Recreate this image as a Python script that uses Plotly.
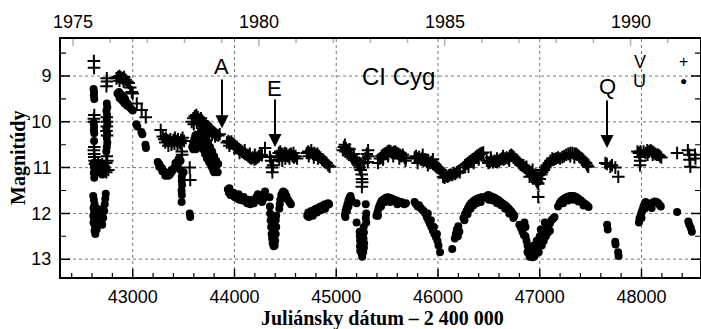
import plotly.graph_objects as go

# ---------------- data: (JD - 2 400 000, magnitude) ----------------
# U band (filled circles)
U_1975 = [(42615, 9.28), (42620, 9.35), (42618, 9.42), (42622, 9.5), (42616, 10.02), (42620, 10.1),
          (42618, 10.18), (42622, 10.25), (42620, 10.42), (42615, 10.9), (42620, 10.98), (42625, 11.05),
          (42618, 11.12), (42622, 11.22), (42630, 11.0), (42640, 11.1), (42660, 11.05), (42680, 11.1),
          (42700, 11.15), (42720, 11.05), (42612, 11.62), (42618, 11.7), (42625, 11.8), (42615, 11.88),
          (42622, 11.95), (42630, 12.0), (42612, 12.05), (42620, 12.1), (42628, 12.15), (42615, 12.2),
          (42625, 12.25), (42635, 12.3), (42625, 12.38), (42632, 12.45), (42645, 12.35), (42655, 12.2),
          (42665, 12.1), (42660, 11.98), (42675, 12.05), (42690, 12.15), (42700, 12.25), (42710, 12.1),
          (42720, 11.95), (42725, 11.8), (42730, 11.68), (42735, 11.57), (42680, 11.92), (42650, 11.9),
          (42745, 9.6), (42750, 9.68), (42742, 9.76), (42748, 9.85), (42745, 9.95), (42750, 10.05),
          (42742, 10.15), (42748, 10.25), (42745, 10.35), (42750, 10.45), (42745, 10.55), (42740, 10.65),
          (42850, 9.38), (42865, 9.35), (42880, 9.4), (42895, 9.42), (42910, 9.45), (42870, 9.48),
          (42890, 9.52), (42905, 9.55), (42925, 9.5), (42940, 9.58), (42955, 9.62), (42970, 9.68),
          (42985, 9.72), (43000, 9.75), (42945, 9.65), (42920, 9.6), (43035, 10.05), (43045, 10.1),
          (43085, 10.22), (43095, 10.27), (43125, 10.5), (43130, 10.57)]
U_1977 = [(43245, 10.88), (43260, 10.92), (43275, 10.98), (43290, 11.02), (43305, 11.08), (43320, 11.12),
          (43335, 11.15), (43350, 11.18), (43365, 11.15), (43380, 11.1), (43395, 11.05), (43410, 11.0),
          (43425, 10.95), (43440, 10.9), (43455, 10.88), (43470, 10.85), (43260, 10.98), (43290, 11.08),
          (43320, 11.18), (43350, 11.12), (43380, 11.05), (43420, 10.9), (43450, 10.82), (43440, 10.95),
          (43470, 11.05), (43500, 11.1), (43482, 11.2), (43482, 11.28), (43485, 11.38), (43480, 11.5),
          (43483, 11.6), (43480, 11.75), (43560, 12.0), (43565, 12.08)]
U_1978 = [(43585, 10.55), (43595, 10.45), (43605, 10.38), (43615, 10.3), (43625, 10.28), (43595, 10.6),
          (43610, 10.52), (43625, 10.45), (43640, 10.38), (43655, 10.3), (43640, 10.55), (43660, 10.45),
          (43670, 10.2), (43685, 10.22), (43690, 10.3), (43700, 10.38), (43710, 10.45), (43720, 10.52),
          (43730, 10.6), (43740, 10.68), (43750, 10.75), (43760, 10.82), (43775, 10.9), (43790, 10.97),
          (43805, 11.02), (43820, 11.07), (43835, 11.1), (43680, 10.4), (43700, 10.5), (43720, 10.62),
          (43740, 10.78), (43760, 10.9), (43780, 11.0), (43800, 11.1), (43620, 10.6), (43650, 10.55),
          (43670, 10.5), (43690, 10.6), (43710, 10.7), (43730, 10.8), (43750, 10.88), (43770, 10.95),
          (43790, 11.05), (43700, 10.25), (43720, 10.35), (43740, 10.45), (43760, 10.55), (43780, 10.65),
          (43800, 10.75), (43820, 10.85), (43840, 10.92)]
U_1979 = [(43935, 11.48), (43945, 11.55), (43960, 11.6), (43975, 11.58), (43990, 11.62), (44005, 11.65),
          (44020, 11.62), (44035, 11.68), (44050, 11.7), (44065, 11.66), (44080, 11.72), (44095, 11.7),
          (44110, 11.74), (44125, 11.78), (44140, 11.76), (44155, 11.8), (44170, 11.74), (44185, 11.7),
          (44200, 11.72), (44215, 11.65), (44230, 11.58), (44245, 11.62), (44260, 11.68), (44270, 11.75),
          (44280, 11.7), (44290, 11.6), (44300, 11.52), (43950, 11.45), (43990, 11.55), (44040, 11.58),
          (44090, 11.64), (44140, 11.7), (44190, 11.78), (44230, 11.7), (44345, 11.65), (44348, 11.85),
          (44350, 12.0), (44355, 12.15), (44360, 12.3), (44365, 12.45), (44370, 12.55), (44375, 12.65),
          (44385, 12.72), (44395, 12.7), (44400, 12.6), (44405, 12.45), (44410, 12.3), (44405, 12.15),
          (44410, 12.05), (44380, 12.4), (44390, 12.55), (44370, 12.2), (44440, 11.9), (44445, 11.8),
          (44450, 11.7), (44460, 11.6), (44470, 11.55), (44480, 11.52), (44495, 11.55), (44510, 11.62),
          (44525, 11.7), (44540, 11.75), (44555, 11.8)]
U_1980 = [(44715, 12.05), (44725, 11.98), (44740, 12.02), (44755, 11.95), (44770, 11.98), (44785, 11.92),
          (44800, 11.9), (44815, 11.92), (44830, 11.87), (44845, 11.85), (44860, 11.88), (44875, 11.82),
          (44890, 11.8), (44905, 11.83), (44920, 11.78), (44930, 11.8), (44730, 12.08), (44770, 12.05),
          (44810, 11.98), (44850, 11.93), (44890, 11.9)]
U_1981 = [(45085, 12.03), (45092, 11.95), (45100, 11.88), (45110, 11.8), (45120, 11.72), (45130, 11.66),
          (45140, 11.62), (45090, 12.08), (45105, 11.95), (45120, 11.85), (45135, 11.75), (45150, 11.7),
          (45200, 11.78), (45290, 11.8), (45295, 12.0), (45290, 12.1), (45295, 12.2), (45200, 12.2),
          (45230, 12.4), (45232, 12.5), (45235, 12.6), (45233, 12.72), (45236, 12.82), (45270, 12.3),
          (45272, 12.42), (45268, 12.55), (45274, 12.65), (45272, 12.75), (45250, 12.88), (45255, 12.95),
          (45245, 12.8), (45265, 12.85), (45395, 12.05), (45405, 11.98), (45415, 11.9), (45425, 11.83),
          (45435, 11.78), (45445, 11.73), (45460, 11.7), (45475, 11.68), (45490, 11.66), (45505, 11.65),
          (45520, 11.66), (45535, 11.67), (45550, 11.68), (45565, 11.7), (45580, 11.72), (45595, 11.72),
          (45610, 11.74), (45625, 11.76), (45640, 11.75), (45655, 11.78), (45670, 11.8), (45685, 11.78),
          (45410, 12.05), (45440, 11.85), (45480, 11.75), (45530, 11.75), (45600, 11.8)]
U_1983 = [(45770, 11.75), (45785, 11.8), (45800, 11.85), (45815, 11.82), (45830, 11.88), (45845, 11.92),
          (45860, 11.95), (45875, 12.0), (45890, 12.08), (45905, 12.15), (45920, 12.22), (45935, 12.3),
          (45950, 12.38), (45965, 12.45), (45980, 12.52), (45995, 12.6), (46005, 12.7), (45900, 12.0),
          (45930, 12.15), (45960, 12.3), (45990, 12.45), (46020, 12.85), (46140, 12.78), (46165, 12.55),
          (46175, 12.45), (46185, 12.35), (46200, 12.28), (46210, 12.4), (46195, 12.5), (46250, 12.1),
          (46265, 12.02), (46280, 11.95), (46295, 11.88), (46310, 11.82), (46325, 11.78), (46340, 11.75),
          (46355, 11.72), (46370, 11.7), (46385, 11.68), (46400, 11.67), (46415, 11.66), (46430, 11.65),
          (46445, 11.65), (46260, 12.15), (46290, 12.02), (46320, 11.9), (46350, 11.82), (46380, 11.78),
          (46420, 11.75), (46480, 11.62), (46495, 11.6), (46510, 11.62), (46525, 11.63), (46540, 11.65),
          (46555, 11.66), (46570, 11.68), (46585, 11.7), (46600, 11.72), (46615, 11.75), (46630, 11.78),
          (46645, 11.8), (46660, 11.82), (46675, 11.85), (46690, 11.88), (46705, 11.92), (46720, 11.96),
          (46735, 12.0), (46750, 12.05), (46500, 11.7), (46540, 11.72), (46580, 11.78), (46620, 11.82),
          (46660, 11.9), (46700, 12.0), (46740, 12.1), (46800, 12.25), (46815, 12.32), (46830, 12.4),
          (46845, 12.48)]
U_1986 = [(46860, 12.5), (46870, 12.6), (46880, 12.7), (46890, 12.78), (46900, 12.85), (46910, 12.9),
          (46920, 12.93), (46930, 12.96), (46940, 12.95), (46950, 12.92), (46960, 12.88), (46970, 12.85),
          (46980, 12.8), (46990, 12.72), (47000, 12.65), (47010, 12.58), (47020, 12.5), (47030, 12.45),
          (47040, 12.4), (47050, 12.35), (47060, 12.3), (47080, 12.28), (47100, 12.22), (47115, 12.15),
          (47130, 12.12), (47145, 12.08), (46880, 12.85), (46900, 12.95), (46930, 12.85), (46960, 12.75),
          (46990, 12.85), (47000, 12.5), (47020, 12.7), (47040, 12.6), (47060, 12.5), (47080, 12.42),
          (47100, 12.38), (46970, 12.6), (47010, 12.35), (47050, 12.2), (46860, 12.3), (46850, 12.2),
          (46940, 12.7)]
U_1987 = [(47180, 11.85), (47195, 11.78), (47210, 11.73), (47225, 11.7), (47240, 11.68), (47255, 11.66),
          (47270, 11.64), (47285, 11.63), (47300, 11.62), (47315, 11.62), (47330, 11.62), (47345, 11.63),
          (47360, 11.65), (47375, 11.67), (47390, 11.7), (47405, 11.72), (47420, 11.75), (47435, 11.78),
          (47450, 11.8), (47465, 11.83), (47480, 11.86), (47230, 11.78), (47280, 11.72), (47330, 11.7),
          (47380, 11.74), (47430, 11.83)]
U_1988 = [(47662, 12.25), (47668, 12.35), (47742, 12.62), (47745, 12.68), (47770, 12.85), (47775, 12.93)]
U_1989 = [(47975, 12.2), (47980, 12.12), (47990, 12.05), (48000, 11.98), (48010, 11.92), (48020, 11.85),
          (48030, 11.8), (48040, 11.75), (48055, 11.78), (48070, 11.82), (48090, 11.8), (48110, 11.76),
          (48130, 11.74), (48150, 11.75), (48165, 11.78), (48180, 11.82), (48190, 11.85), (48000, 12.1),
          (48030, 11.9), (48100, 11.88), (48350, 11.97), (48460, 12.18), (48470, 12.25), (48485, 12.32),
          (48495, 12.4)]

# V band (plus signs)
V_1975 = [(42618, 8.67), (42620, 8.82), (42622, 9.85), (42618, 9.93), (42620, 10.0), (42622, 10.55),
          (42618, 10.62), (42620, 10.7), (42622, 10.77), (42625, 10.85), (42630, 10.92), (42645, 10.95),
          (42660, 10.9), (42680, 10.95), (42700, 10.92), (42720, 10.98), (42740, 10.9), (42750, 10.85),
          (42745, 10.75), (42640, 11.0), (42660, 11.05), (42680, 11.0), (42700, 11.08), (42720, 11.02),
          (42740, 11.1), (42760, 11.05), (42745, 9.05), (42748, 9.12), (42742, 9.22), (42745, 9.9),
          (42748, 10.0), (42745, 10.1), (42742, 10.2), (42748, 10.3), (42840, 9.05), (42855, 9.02),
          (42870, 9.0), (42885, 9.03), (42900, 9.05), (42915, 9.02), (42930, 9.08), (42945, 9.12),
          (42960, 9.15), (42975, 9.25), (42990, 9.35), (43000, 9.38), (42870, 9.1), (42910, 9.12),
          (43040, 9.6), (43088, 9.74), (43128, 9.9)]
V_1977 = [(43275, 10.18), (43295, 10.32), (43310, 10.38), (43325, 10.35), (43340, 10.4), (43355, 10.42),
          (43370, 10.38), (43385, 10.45), (43400, 10.4), (43415, 10.35), (43430, 10.42), (43445, 10.38),
          (43460, 10.45), (43475, 10.4), (43490, 10.35), (43505, 10.42), (43320, 10.45), (43350, 10.52),
          (43380, 10.5), (43410, 10.48), (43440, 10.5), (43470, 10.47), (43482, 10.65), (43485, 10.72),
          (43560, 11.0), (43565, 11.27)]
V_1978 = [(43580, 10.0), (43595, 9.92), (43610, 9.88), (43625, 9.85), (43640, 9.9), (43655, 9.95),
          (43670, 9.92), (43685, 9.98), (43700, 10.02), (43715, 10.05), (43730, 10.1), (43745, 10.12),
          (43760, 10.15), (43775, 10.18), (43790, 10.22), (43805, 10.25), (43820, 10.28), (43840, 10.3),
          (43855, 10.27), (43600, 10.05), (43630, 10.02), (43660, 10.05), (43690, 10.1), (43720, 10.15),
          (43750, 10.22), (43780, 10.28), (43810, 10.32)]
V_1979 = [(43925, 10.45), (43940, 10.42), (43955, 10.45), (43970, 10.43), (43985, 10.48), (44000, 10.5),
          (44015, 10.55), (44030, 10.58), (44045, 10.6), (44060, 10.62), (44075, 10.65), (44090, 10.68),
          (44105, 10.7), (44120, 10.72), (44135, 10.75), (44150, 10.78), (44165, 10.8), (44180, 10.78),
          (44195, 10.82), (44210, 10.8), (44225, 10.78), (44240, 10.75), (44255, 10.72), (44270, 10.73),
          (43950, 10.52), (44000, 10.58), (44050, 10.68), (44100, 10.62), (44150, 10.7), (44200, 10.72),
          (44300, 10.57), (44348, 10.77), (44368, 11.0), (44372, 11.1), (44380, 10.95), (44360, 10.85),
          (44420, 10.75), (44435, 10.68), (44450, 10.65), (44465, 10.7), (44480, 10.72), (44495, 10.68),
          (44510, 10.7), (44525, 10.75), (44540, 10.72), (44555, 10.7), (44570, 10.75), (44585, 10.78),
          (44600, 10.75), (44615, 10.8), (44440, 10.82), (44470, 10.85), (44500, 10.8), (44540, 10.8),
          (44580, 10.68)]
V_1980 = [(44710, 10.68), (44725, 10.65), (44740, 10.68), (44755, 10.62), (44770, 10.7), (44785, 10.68),
          (44800, 10.72), (44815, 10.7), (44830, 10.75), (44845, 10.78), (44860, 10.82), (44875, 10.85),
          (44890, 10.88), (44905, 10.9), (44920, 10.95), (44935, 10.98), (44730, 10.75), (44780, 10.78),
          (44820, 10.8)]
V_1981 = [(45065, 10.62), (45075, 10.55), (45085, 10.5), (45095, 10.58), (45105, 10.62), (45115, 10.68),
          (45125, 10.72), (45135, 10.7), (45145, 10.75), (45160, 10.8), (45175, 10.78), (45190, 10.82),
          (45200, 10.85), (45210, 10.9), (45220, 10.95), (45230, 11.0), (45240, 11.05), (45250, 11.15),
          (45253, 11.25), (45255, 11.32), (45252, 11.42), (45270, 10.9), (45285, 10.8), (45300, 10.7),
          (45313, 10.62), (45315, 10.75), (45310, 10.88), (45090, 10.65), (45130, 10.6), (45170, 10.7),
          (45410, 10.9), (45430, 10.8), (45445, 10.75), (45460, 10.72), (45475, 10.7), (45490, 10.68),
          (45505, 10.65), (45520, 10.63), (45535, 10.65), (45550, 10.68), (45565, 10.66), (45580, 10.65),
          (45595, 10.68), (45610, 10.7), (45625, 10.72), (45640, 10.75), (45655, 10.72), (45670, 10.78),
          (45685, 10.8), (45460, 10.82), (45510, 10.75), (45560, 10.75), (45620, 10.8), (45680, 10.85)]
V_1983 = [(45770, 10.78), (45785, 10.75), (45800, 10.8), (45815, 10.77), (45830, 10.82), (45845, 10.8),
          (45860, 10.85), (45875, 10.82), (45890, 10.87), (45905, 10.85), (45920, 10.9), (45935, 10.88),
          (45950, 10.92), (45965, 10.95), (45980, 10.97), (45995, 11.0), (46010, 11.02), (46025, 11.05),
          (46040, 11.1), (45800, 10.9), (45850, 10.72), (45900, 10.95), (45950, 10.82), (46050, 11.2),
          (46065, 11.22), (46080, 11.18), (46095, 11.2), (46110, 11.17), (46125, 11.15), (46140, 11.16),
          (46155, 11.12), (46170, 11.14), (46185, 11.1), (46200, 11.08), (46215, 11.1), (46250, 11.0),
          (46265, 10.95), (46280, 10.92), (46295, 10.9), (46310, 10.87), (46325, 10.85), (46340, 10.82),
          (46355, 10.8), (46370, 10.77), (46385, 10.74), (46400, 10.72), (46415, 10.7), (46430, 10.68),
          (46445, 10.67), (46300, 10.98), (46350, 10.9), (46400, 10.82), (46480, 10.85), (46495, 10.9),
          (46510, 10.88), (46525, 10.85), (46540, 10.88), (46555, 10.85), (46570, 10.87), (46585, 10.88),
          (46600, 10.85), (46615, 10.82), (46630, 10.8), (46645, 10.82), (46660, 10.8), (46675, 10.78),
          (46690, 10.8), (46705, 10.75), (46720, 10.72), (46735, 10.75), (46750, 10.78), (46765, 10.82),
          (46780, 10.85), (46795, 10.9), (46810, 10.93), (46825, 10.95), (46520, 10.78), (46580, 10.8),
          (46640, 10.75), (46700, 10.85)]
V_1986 = [(46840, 10.95), (46855, 11.0), (46870, 11.05), (46885, 11.08), (46900, 11.1), (46915, 11.12),
          (46930, 11.15), (46945, 11.18), (46955, 11.22), (46965, 11.28), (46975, 11.32), (46985, 11.35),
          (46985, 11.64), (47000, 11.25), (47015, 11.15), (47025, 11.1), (47040, 11.05), (47054, 11.0),
          (46870, 10.98), (46900, 11.2), (46930, 11.05), (46960, 11.15), (47070, 10.95), (47090, 10.9),
          (47105, 10.85), (47123, 10.8), (47140, 10.82), (47160, 10.8), (47180, 10.78), (47200, 10.8),
          (47221, 10.77), (47240, 10.75), (47260, 10.72), (47280, 10.7), (47300, 10.68), (47320, 10.68),
          (47340, 10.7), (47355, 10.7), (47369, 10.72), (47385, 10.75), (47400, 10.78), (47415, 10.8),
          (47428, 10.83), (47440, 10.87), (47455, 10.9), (47465, 10.95), (47477, 10.98), (47300, 10.75),
          (47340, 10.78)]
V_1988 = [(47645, 10.9), (47660, 10.92), (47694, 10.98), (47710, 10.95), (47743, 11.0), (47772, 11.2)]
V_1989 = [(47960, 10.65), (47975, 10.68), (47990, 10.65), (48020, 10.65), (47985, 10.77), (47988, 10.85),
          (47985, 10.95), (48040, 10.68), (48057, 10.62), (48075, 10.65), (48090, 10.62), (48105, 10.65),
          (48120, 10.67), (48135, 10.7), (48150, 10.72), (48165, 10.72), (48180, 10.75), (48195, 10.78),
          (48060, 10.72), (48110, 10.72), (48350, 10.68), (48456, 10.62), (48470, 10.72), (48472, 10.83),
          (48480, 10.98), (48526, 10.72), (48530, 10.8)]

X_RANGE = [42295, 48575]
Y_RANGE = [13.39, 8.19]
YEARS = list(range(1975, 1992))
YEAR_LABELS = [1975, 1980, 1985, 1990]
JD_1975 = 42413.5  # JD-2400000 of 1975.0

U_all = U_1975 + U_1977 + U_1978 + U_1979 + U_1980 + U_1981 + U_1983 + U_1986 + U_1987 + U_1988 + U_1989
V_all = V_1975 + V_1977 + V_1978 + V_1979 + V_1980 + V_1981 + V_1983 + V_1986 + V_1988 + V_1989

LAB = "Liberation Sans, Arial, sans-serif"
SERIF = "Liberation Serif, Times New Roman, serif"
PLOT_H = 329 - 39 - 52
PLOT_W = 701 - 61 - 1


def year_to_jd(y):
    return JD_1975 + (y - 1975) * 365.25


fig = go.Figure()
fig.add_trace(go.Scatter(x=[p[0] for p in U_all], y=[p[1] for p in U_all], mode="markers",
                         marker=dict(symbol="circle", size=8, color="black"), name="U", showlegend=False))
fig.add_trace(go.Scatter(x=[p[0] for p in V_all], y=[p[1] for p in V_all], mode="markers",
                         marker=dict(symbol="cross-thin", size=9, line=dict(width=2, color="black")),
                         name="V", showlegend=False))

fig.update_layout(
    width=701, height=329,
    template="simple_white",
    margin=dict(l=61, r=1, t=39, b=52, autoexpand=False),
    paper_bgcolor="white", plot_bgcolor="white",
    font=dict(family=LAB, size=18, color="black"),
    xaxis=dict(range=X_RANGE, dtick=1000, tick0=43000, ticks="inside", ticklen=8, tickwidth=1.5,
               tickcolor="black", showline=True, linewidth=2, linecolor="black", mirror=True,
               showgrid=True, gridcolor="#777", griddash="dot", gridwidth=1, zeroline=False,
               tickfont=dict(family=LAB, size=18), ticklabelstandoff=2, tickformat="d",
               automargin=False,
               minor=dict(dtick=200, tick0=43000, ticks="inside", ticklen=4, tickwidth=1.2,
                          tickcolor="black", showgrid=False)),
    yaxis=dict(range=Y_RANGE, dtick=1, tick0=9, ticks="inside", ticklen=9, tickwidth=1.5,
               tickcolor="black", showline=True, linewidth=2, linecolor="black", mirror="allticks",
               showgrid=True, gridcolor="#777", griddash="dot", gridwidth=1, zeroline=False,
               tickfont=dict(family=LAB, size=18), ticklabelstandoff=4, automargin=False,
               minor=dict(dtick=0.5, tick0=9, ticks="inside", ticklen=5, tickwidth=1.2,
                          tickcolor="black", showgrid=False)),
)

# top axis: calendar years
for yr in YEARS:
    jd = year_to_jd(yr)
    if jd < X_RANGE[0] or jd > X_RANGE[1]:
        continue
    ln = 7 if yr % 5 == 0 else 4
    fig.add_shape(type="line", xref="x", yref="paper", x0=jd, x1=jd, y0=1, y1=1 - ln / PLOT_H,
                  line=dict(color="black", width=1.5))
for yr in YEAR_LABELS:
    fig.add_annotation(x=year_to_jd(yr), y=1 + (277 - 21.5 - 238) / PLOT_H, xref="x", yref="paper",
                       text=str(yr), showarrow=False, xanchor="center", yanchor="middle",
                       font=dict(family=LAB, size=18, color="black"))

# axis titles
fig.add_annotation(x=(382 - 61) / PLOT_W, y=(277 - 318) / PLOT_H, xref="paper", yref="paper",
                   text="<b>Juliánsky dátum – 2 400 000</b>", showarrow=False,
                   xanchor="center", yanchor="middle",
                   font=dict(family=SERIF, size=20, color="black"))
fig.add_annotation(x=(18 - 61) / PLOT_W, y=(277 - 158) / PLOT_H, xref="paper", yref="paper",
                   text="<b>Magnitúdy</b>", showarrow=False, textangle=-90,
                   xanchor="center", yanchor="middle",
                   font=dict(family=SERIF, size=20, color="black"))

# event arrows
for lbl, jd, tip, tail, txt_y in [("A", 43877, 10.14, 9.04, 8.8), ("E", 44398, 10.55, 9.48, 9.28),
                                    ("Q", 47661, 10.57, 9.5, 9.22)]:
    fig.add_annotation(x=jd, y=tip, ax=jd, ay=tail, xref="x", yref="y", axref="x", ayref="y",
                       showarrow=True, arrowhead=2, arrowsize=1.3, arrowwidth=2, arrowcolor="black", text="")
    fig.add_annotation(x=jd, y=txt_y, xref="x", yref="y", text=lbl, showarrow=False,
                       xanchor="center", yanchor="middle",
                       font=dict(family=LAB, size=22, color="black"))

fig.add_annotation(x=45607, y=9.02, xref="x", yref="y", text="CI Cyg", showarrow=False,
                   xanchor="center", yanchor="middle",
                   font=dict(family=LAB, size=24, color="black"))
# legend
for lbl, sym, ymag, sz in [("V", "+", 8.69, 16), ("U", "●", 9.11, 12)]:
    fig.add_annotation(x=47985, y=ymag, xref="x", yref="y", text=lbl, showarrow=False,
                       xanchor="center", yanchor="middle",
                       font=dict(family=LAB, size=18, color="black"))
    fig.add_annotation(x=48408, y=ymag, xref="x", yref="y", text=sym, showarrow=False,
                       xanchor="center", yanchor="middle",
                       font=dict(family=LAB, size=sz, color="black"))

# page tweaks: no default body margin; plain strokes for the axis frame, ticks and grid
POST = """
document.body.style.margin = '0';
document.body.style.overflow = 'hidden';
var gd = document.getElementById('{plot_id}');
gd.querySelectorAll('path').forEach(function(p) {
    p.style.vectorEffect = 'none';
    p.style.shapeRendering = 'auto';
});
"""
fig.write_html("out.html", post_script=POST, config={"displayModeBar": False, "staticPlot": True})
